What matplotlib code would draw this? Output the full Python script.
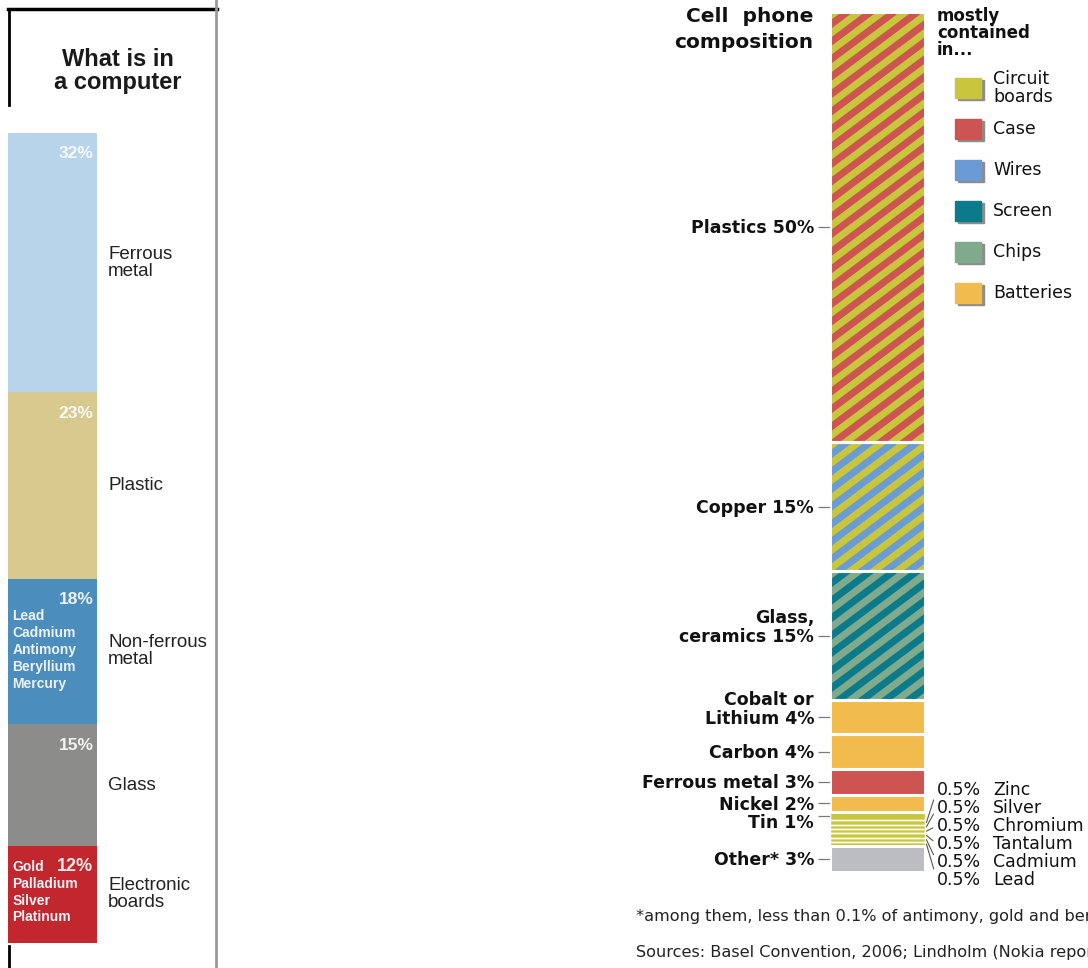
import numpy as np
import matplotlib
matplotlib.use('Agg')
import matplotlib.pyplot as plt
from matplotlib.patches import Rectangle
from matplotlib.transforms import offset_copy

# --- data -------------------------------------------------------------
# left: what is in a computer
pc_parts = ['Ferrous\nmetal', 'Plastic', 'Non-ferrous\nmetal', 'Glass', 'Electronic\nboards']
pc_pct = [32, 23, 18, 15, 12]
pc_details = [[], [], ['Lead', 'Cadmium', 'Antimony', 'Beryllium', 'Mercury'], [],
              ['Gold', 'Palladium', 'Silver', 'Platinum']]
pc_colors = ['#b7d4ea', '#d8c98e', '#4b8dbd', '#8c8c8a', '#c1272d']

# right: cell phone composition
ph_parts = ['Plastics', 'Copper', 'Glass,\nceramics', 'Cobalt or\nLithium', 'Carbon',
            'Ferrous metal', 'Nickel', 'Tin', 'Zinc', 'Silver', 'Chromium',
            'Tantalum', 'Cadmium', 'Lead', 'Other*']
ph_pct = [50, 15, 15, 4, 4, 3, 2, 1, 0.5, 0.5, 0.5, 0.5, 0.5, 0.5, 3]
ph_source = ['circuit+case', 'circuit+wires', 'screen+chips', 'batteries', 'batteries',
             'case', 'batteries', 'circuit', 'circuit', 'circuit', 'circuit',
             'circuit', 'circuit', 'circuit', 'other']

legend_names = ['Circuit\nboards', 'Case', 'Wires', 'Screen', 'Chips', 'Batteries']
legend_colors = ['#c8c63c', '#cd5450', '#6a9bd4', '#0b7b8c', '#7faa8c', '#f1bc4d']

# face colour, stripe colour for each source
fills = {
    'circuit+case': ('#cd5450', '#c8c63c'),
    'circuit+wires': ('#6a9bd4', '#c8c63c'),
    'screen+chips': ('#0b7b8c', '#7faa8c'),
    'batteries': ('#f1bc4d', None),
    'case': ('#cd5450', None),
    'circuit': ('#c8c63c', None),
    'other': ('#bcbdc0', None),
}

W, H = 1088, 968
PX0, PY0, PX1, PY1 = 830, 12, 925, 872   # phone bar box in pixels


def rect(x0, y0, x1, y1):
    # pixel box (top-left origin) -> figure fraction
    return [x0 / W, 1 - y1 / H, (x1 - x0) / W, (y1 - y0) / H]


fig = plt.figure(figsize=(W / 100, H / 100), dpi=100)

# overlay in pixel units for frame, titles, legend
ov = fig.add_axes([0, 0, 1, 1])
ov.set_xlim(0, W)
ov.set_ylim(H, 0)
ov.axis('off')

# --- left panel -------------------------------------------------------
ov.plot([8, 217], [9, 9], color='black', lw=2.5)
ov.plot([8.5, 8.5], [9, 105], color='black', lw=2)
ov.plot([216, 216], [0, H], color='#9a9a9a', lw=2)
ov.plot([8.5, 8.5], [946, H], color='black', lw=2)
ov.text(118, 71, 'What is in\na computer', ha='center', va='center', fontsize=17,
        fontweight='bold', family='Liberation Sans', color='#1a1a1a', linespacing=1.05)

ax1 = fig.add_axes(rect(8, 133, 97, 943))
bottoms = np.concatenate([[0], np.cumsum(pc_pct)[:-1]])
ax1.bar(0.5, pc_pct, bottom=bottoms, width=1, color=pc_colors, linewidth=0)
ax1.set_xlim(0, 1)
ax1.set_ylim(100, 0)
ax1.axis('off')

detail_off = [0, 0, 27, 0, 15]
for i, (name, p, det) in enumerate(zip(pc_parts, pc_pct, pc_details)):
    b = bottoms[i]
    tr = offset_copy(ax1.transData, fig=fig, y=-15, units='points')
    ax1.text(0.96, b, f'{p}%', transform=tr, ha='right', va='center',
             fontsize=13 if p == 12 else 12.5,
             fontweight='bold', family='Liberation Sans', color='white', alpha=0.9)
    for j, line in enumerate(det):
        trd = offset_copy(ax1.transData, fig=fig, y=-detail_off[i] - 12.2 * j, units='points')
        ax1.text(0.05, b, line, transform=trd, ha='left', va='center', fontsize=10,
                 fontweight='bold', family='Liberation Sans', color='#eef3f8')
    ax1.text(1.124, b + p / 2, name, ha='left', va='center', fontsize=13.5,
             family='Liberation Sans', color='#222222', linespacing=1.0)

# --- right panel ------------------------------------------------------
ov.text(813, 17, 'Cell  phone', ha='right', va='center', fontsize=14.5,
        fontweight='bold', color='#111111')
ov.text(813, 42, 'composition', ha='right', va='center', fontsize=14.5,
        fontweight='bold', color='#111111')
for k, w in enumerate(['mostly', 'contained', 'in...']):
    ov.text(937, 16 + 17 * k, w, ha='left', va='center', fontsize=12,
            fontweight='bold', color='#111111')
for i, (nm, c) in enumerate(zip(legend_names, legend_colors)):
    y = 88 + i * 41
    ov.add_patch(Rectangle((957.5, y - 8), 26, 20, color='#8c8c8c'))
    ov.add_patch(Rectangle((955, y - 10.5), 26, 20, color=c))
    ov.text(993, y, nm, ha='left', va='center', fontsize=12.5, color='#111111',
            linespacing=0.95)

ax2 = fig.add_axes(rect(PX0, PY0, PX1, PY1))
ax2.set_xlim(0, 1)
ax2.set_ylim(100, 0)
pb = np.concatenate([[0], np.cumsum(ph_pct)[:-1]])

# diagonal stripes as bands (slope ~0.75 on screen, ~17 px vertical period)
px_per_pct = (PY1 - PY0) / 100
rise = (PX1 - PX0) * 0.75 / px_per_pct
period = 17.5 / px_per_pct
for i, (p, src) in enumerate(zip(ph_pct, ph_source)):
    face, stripe = fills[src]
    bar = ax2.bar(0.5, p, bottom=pb[i], width=1, color=face, linewidth=0)[0]
    if stripe:
        for y0 in np.arange(pb[i] - period, pb[i] + p + rise + period, period):
            band = ax2.fill([0, 1, 1, 0],
                            [y0, y0 - rise, y0 - rise + period / 2, y0 + period / 2],
                            color=stripe, lw=0, zorder=1.5)[0]
            band.set_clip_path(bar)

# white separators
sep_lw = [2.2 if p > 1 else 1.0 for p in ph_pct]
ax2.bar(0.5, ph_pct, bottom=pb, width=1, fill=False, edgecolor='white',
        linewidth=sep_lw, zorder=3)
ax2.set_xlim(0, 1)
ax2.set_ylim(100, 0)
for s in ax2.spines.values():
    s.set_visible(False)
ax2.set_xticks([])

big = [i for i, p in enumerate(ph_pct) if p >= 1]
centers = [pb[i] + ph_pct[i] / 2 for i in big]
ax2.set_yticks(centers)
ax2.set_yticklabels([''] * len(centers))
ax2.tick_params(axis='y', length=8.5, width=0.9, color='#7a7a7a')

for i, c in zip(big, centers):
    extra = 4.3 if ph_parts[i] == 'Tin' else 0
    tr = offset_copy(ax2.get_yaxis_transform(), fig=fig, x=-11.5, y=-4.6 - extra, units='points')
    ax2.text(0, c, f'{ph_parts[i]} {ph_pct[i]:g}%', transform=tr, ha='right', va='baseline',
             fontsize=12.5, fontweight='bold', color='#111111', linespacing=1.05)

small = [i for i, p in enumerate(ph_pct) if p < 1]
lab_top, lab_step = 90.45, 2.09
yt = ax2.get_yaxis_transform()
for k, i in enumerate(small):
    c = pb[i] + ph_pct[i] / 2
    ly = lab_top + k * lab_step
    ax2.annotate(f'{ph_pct[i]:g}%', xy=(1.015, c), xycoords=yt, xytext=(1.125, ly),
                 textcoords=yt, ha='left', va='center', fontsize=12.5, color='#111111',
                 arrowprops=dict(arrowstyle='-', color='#555555', lw=0.8,
                                 shrinkA=1, shrinkB=0, relpos=(0, 0.5)))
    ax2.text(1.716, ly, ph_parts[i], transform=yt, ha='left', va='center',
             fontsize=12.5, color='#111111')

ov.text(636, 917, '*among them, less than 0.1% of antimony, gold and beryllium',
        ha='left', va='center', fontsize=11.6, color='#222222')
ov.text(636, 953, 'Sources: Basel Convention, 2006; Lindholm (Nokia report)',
        ha='left', va='center', fontsize=11.6, color='#222222')

fig.savefig('out.png', dpi=100)
